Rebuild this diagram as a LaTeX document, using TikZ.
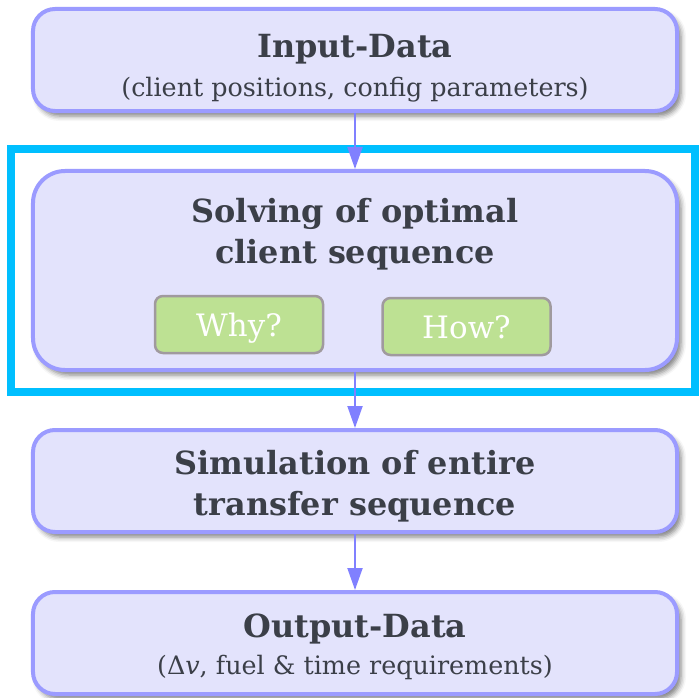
\documentclass[tikz,border=0pt]{standalone}
\usepackage{fontspec}
\setmainfont{DejaVu Serif}
\usetikzlibrary{arrows.meta,shadows.blur}

\definecolor{boxfill}{HTML}{E3E3FC}
\definecolor{boxline}{HTML}{9B9BFF}
\definecolor{arrowcol}{HTML}{8080FF}
\definecolor{framecol}{HTML}{00BFFF}
\definecolor{btnfill}{HTML}{BDE193}
\definecolor{btnline}{HTML}{A09A9E}
\definecolor{textcol}{HTML}{3B3F48}

\tikzset{
  stage/.style={draw=boxline, fill=boxfill, line width=4bp, rounded corners=22bp,
    minimum width=644bp, minimum height=102bp, inner sep=0pt,
    blur shadow={shadow xshift=4bp, shadow yshift=-5bp, shadow blur radius=5bp, shadow opacity=50}},
  button/.style={draw=btnline, fill=btnfill, line width=2.5bp, rounded corners=8bp,
    minimum width=168bp, minimum height=57bp, text=white, inner sep=0pt,
    text height=24bp, text depth=1bp,
    font=\fontsize{31}{34}\selectfont},
  headline/.style={anchor=base, text=textcol, font=\fontsize{32}{36}\selectfont\bfseries},
  subline/.style={anchor=base, text=textcol, font=\fontsize{25.5}{28}\selectfont},
  flow/.style={draw=arrowcol, line width=2bp, -{Triangle[length=22bp,width=15bp]}}
}

\begin{document}
\begin{tikzpicture}[x=1bp,y=-1bp]
\useasboundingbox (0,0) rectangle (700,698);

   % boxes
   \node[stage] at (355,60) (input) {};
   \node[stage, minimum height=199bp, rounded corners=32bp] at (355,270.5) (solving) {};
   \node[stage] at (355,481) (simulation) {};
   \node[stage] at (355,643) (output) {};

   % texts
   \node[headline] at (355,58) (inputtitle) {Input-Data};
   \node[subline] at (355,97) (inputsub) {(client positions, config parameters)};
   \node[headline] at (355,222) (solvingtitle) {Solving of optimal};
   \node[headline] at (355,263) (solvingtitleb) {client sequence};
   \node[headline] at (355,474) (simtitle) {Simulation of entire};
   \node[headline] at (355,515) (simtitleb) {transfer sequence};
   \node[headline] at (355,637) (outputtitle) {Output-Data};
   \node[subline] at (355,674) (outputsub) {(Δ\textit{v}, fuel \& time requirements)};

   % buttons
   \node[button] at (239,324.5) (why) {Why?};
   \node[button] at (466.5,326.5) (how) {How?};

   % highlight frame
   \draw[framecol, line width=8bp] (11,149) rectangle (695,392);

   \draw[flow] (input.south) -- (solving.north);
   \draw[flow] (solving.south) -- (simulation.north);
   \draw[flow] (simulation.south) -- (output.north);

\end{tikzpicture}
\end{document}
